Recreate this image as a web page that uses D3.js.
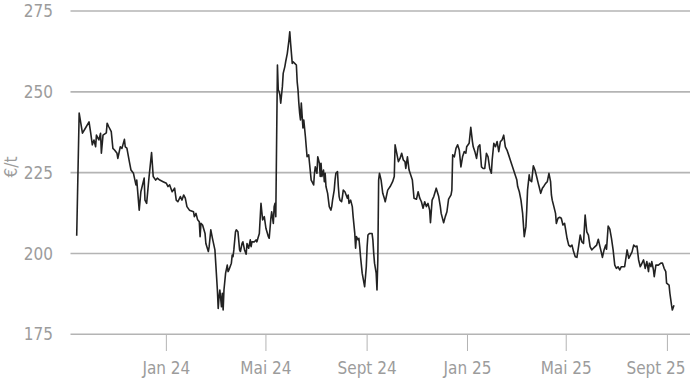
<!DOCTYPE html>
<html>
<head>
<meta charset="utf-8">
<script src="https://cdn.jsdelivr.net/npm/d3@7"></script>
<style>
  html, body { margin: 0; padding: 0; background: #fff; }
  svg text { font-family: "Liberation Sans Narrow", "DejaVu Sans Condensed", Roboto, sans-serif; fill: #9c9c9c; }
</style>
</head>
<body>
<div id="chart"></div>
<script>
// price series, €/t
var dates = [
  "2023-09-14","2023-09-17","2023-09-21","2023-09-24","2023-09-29","2023-10-01","2023-10-03","2023-10-05","2023-10-07","2023-10-08",
  "2023-10-11","2023-10-13","2023-10-14","2023-10-16","2023-10-20","2023-10-21","2023-10-23","2023-10-26","2023-10-28","2023-10-30",
  "2023-11-02","2023-11-03","2023-11-06","2023-11-08","2023-11-11","2023-11-12","2023-11-14","2023-11-17","2023-11-19","2023-11-22",
  "2023-11-25","2023-11-26","2023-11-29","2023-12-01","2023-12-05","2023-12-06","2023-12-08","2023-12-11","2023-12-14","2023-12-16",
  "2023-12-19","2023-12-21","2023-12-24","2023-12-28","2024-01-01","2024-01-03","2024-01-05","2024-01-08","2024-01-11","2024-01-13",
  "2024-01-15","2024-01-18","2024-01-20","2024-01-22","2024-01-24","2024-01-26","2024-01-29",
  "2024-02-03","2024-02-04","2024-02-06","2024-02-08","2024-02-10","2024-02-11","2024-02-12","2024-02-14","2024-02-17","2024-02-18",
  "2024-02-21","2024-02-22","2024-02-24","2024-02-26","2024-02-29","2024-03-01","2024-03-03","2024-03-04","2024-03-05","2024-03-06",
  "2024-03-08","2024-03-09","2024-03-10","2024-03-11","2024-03-13","2024-03-15","2024-03-16","2024-03-17","2024-03-20","2024-03-21",
  "2024-03-22","2024-03-23","2024-03-25","2024-03-26","2024-03-28","2024-03-30","2024-03-31","2024-04-02","2024-04-03","2024-04-05",
  "2024-04-07","2024-04-08","2024-04-10","2024-04-12","2024-04-13","2024-04-14","2024-04-17","2024-04-19","2024-04-20","2024-04-23",
  "2024-04-25","2024-04-26","2024-04-27","2024-04-29","2024-05-01","2024-05-04","2024-05-05","2024-05-07","2024-05-08","2024-05-10",
  "2024-05-11","2024-05-12","2024-05-13",
  "2024-05-15","2024-05-16","2024-05-17","2024-05-18","2024-05-19","2024-05-21","2024-05-22","2024-05-24","2024-05-25","2024-05-27",
  "2024-05-29","2024-05-30","2024-05-31","2024-06-02","2024-06-03","2024-06-05","2024-06-07","2024-06-08","2024-06-09","2024-06-10",
  "2024-06-11","2024-06-12","2024-06-13","2024-06-15","2024-06-16","2024-06-18","2024-06-19","2024-06-20","2024-06-22","2024-06-23",
  "2024-06-24","2024-06-25","2024-06-26","2024-06-28","2024-06-29","2024-06-30","2024-07-02","2024-07-03","2024-07-05","2024-07-06",
  "2024-07-07","2024-07-08","2024-07-10","2024-07-11","2024-07-12","2024-07-13","2024-07-15","2024-07-16","2024-07-17","2024-07-19",
  "2024-07-20","2024-07-21","2024-07-23","2024-07-24","2024-07-25","2024-07-27","2024-07-28","2024-07-29","2024-07-30","2024-08-01",
  "2024-08-02","2024-08-03","2024-08-05","2024-08-08","2024-08-09","2024-08-10","2024-08-12","2024-08-13","2024-08-14","2024-08-15",
  "2024-08-17","2024-08-18","2024-08-19","2024-08-21","2024-08-22","2024-08-23","2024-08-24","2024-08-26","2024-08-29","2024-08-31",
  "2024-09-01","2024-09-02","2024-09-04","2024-09-07","2024-09-08","2024-09-09","2024-09-10","2024-09-12","2024-09-13","2024-09-14",
  "2024-09-15","2024-09-16","2024-09-18","2024-09-19","2024-09-20","2024-09-22","2024-09-23","2024-09-26","2024-09-29",
  "2024-10-02","2024-10-04","2024-10-05","2024-10-07","2024-10-09","2024-10-11","2024-10-13","2024-10-15","2024-10-17","2024-10-18",
  "2024-10-20","2024-10-22","2024-10-24","2024-10-26","2024-10-28","2024-10-31","2024-11-02","2024-11-04","2024-11-06","2024-11-08",
  "2024-11-10","2024-11-12","2024-11-14","2024-11-16","2024-11-17","2024-11-19","2024-11-21","2024-11-24","2024-11-27","2024-11-29",
  "2024-11-30","2024-12-03","2024-12-05","2024-12-07","2024-12-09","2024-12-12","2024-12-13","2024-12-14","2024-12-16","2024-12-18",
  "2024-12-20","2024-12-22","2024-12-24","2024-12-26","2024-12-28","2024-12-30","2024-12-31","2025-01-03","2025-01-05","2025-01-07",
  "2025-01-08","2025-01-10","2025-01-12","2025-01-14","2025-01-16","2025-01-18","2025-01-20","2025-01-22","2025-01-24","2025-01-26",
  "2025-01-28","2025-01-30","2025-01-31","2025-02-02","2025-02-04","2025-02-06","2025-02-08","2025-02-10","2025-02-12","2025-02-14",
  "2025-02-16","2025-02-18","2025-02-20","2025-02-22","2025-02-24","2025-02-26","2025-02-28","2025-03-02","2025-03-03","2025-03-05",
  "2025-03-07","2025-03-09","2025-03-11","2025-03-13","2025-03-14","2025-03-15","2025-03-17",
  "2025-03-18","2025-03-20","2025-03-22","2025-03-24","2025-03-26","2025-03-28","2025-03-29","2025-03-31","2025-04-02","2025-04-04",
  "2025-04-06","2025-04-08","2025-04-10","2025-04-12","2025-04-13","2025-04-14","2025-04-16","2025-04-18","2025-04-19","2025-04-21",
  "2025-04-23","2025-04-25","2025-04-27","2025-04-29","2025-04-30","2025-05-02","2025-05-04","2025-05-06","2025-05-08","2025-05-10",
  "2025-05-12","2025-05-14","2025-05-16","2025-05-18","2025-05-20","2025-05-22","2025-05-24","2025-05-26","2025-05-28","2025-05-30",
  "2025-06-01","2025-06-03","2025-06-05","2025-06-07","2025-06-09","2025-06-11","2025-06-13","2025-06-14","2025-06-16","2025-06-18",
  "2025-06-19","2025-06-21","2025-06-23","2025-06-25","2025-06-27","2025-06-29","2025-07-01","2025-07-03","2025-07-05","2025-07-07",
  "2025-07-09","2025-07-11","2025-07-14","2025-07-16","2025-07-18","2025-07-20","2025-07-22","2025-07-24","2025-07-26","2025-07-28",
  "2025-07-30","2025-07-31","2025-08-03","2025-08-05","2025-08-07","2025-08-09","2025-08-10","2025-08-12","2025-08-13","2025-08-15",
  "2025-08-16","2025-08-18","2025-08-21","2025-08-24","2025-08-26","2025-08-28","2025-08-30","2025-08-31","2025-09-03","2025-09-04",
  "2025-09-06","2025-09-07","2025-09-09"
];

var prices = [
  205.5,243.4,237.2,238.5,240.7,237.3,233.6,235.1,233.0,236.6,
  235.1,237.2,231.0,236.6,237.3,240.3,239.2,237.7,232.5,232.0,
  231.0,229.4,233.0,232.5,235.3,233.0,232.6,228.4,225.8,224.8,
  221.2,222.7,213.4,219.1,223.3,216.5,215.5,223.8,231.2,223.8,
  222.7,223.3,222.7,222.2,221.7,220.7,221.2,219.1,220.2,216.5,
  216.0,217.6,216.5,218.1,217.1,214.5,213.4,
  212.9,211.4,212.4,210.4,209.8,205.2,209.3,208.8,206.2,203.1,
  200.6,202.1,207.3,204.7,201.1,197.0,188.7,183.0,186.6,188.7,
  183.5,187.7,182.5,188.7,193.9,196.4,194.4,194.9,197.0,199.5,
  199.0,201.1,206.7,207.3,206.7,201.1,200.6,203.1,203.6,201.1,
  199.8,203.1,201.6,204.2,202.1,203.6,203.6,204.2,203.6,206.2,
  215.5,212.9,210.4,211.4,207.8,205.2,204.7,210.9,212.9,209.3,
  214.5,215.5,211.4,
  258.3,250.6,250.1,249.0,246.5,251.6,255.7,257.8,259.3,261.9,
  266.0,268.6,265.0,258.8,259.3,258.8,258.3,253.1,250.6,246.5,
  243.4,241.3,246.5,238.8,241.3,236.1,233.0,229.9,230.5,227.9,
  225.3,222.7,222.2,221.2,224.8,226.8,224.8,229.9,227.9,223.8,
  227.9,223.8,225.8,222.2,224.8,220.7,218.6,216.5,214.5,213.4,
  214.5,216.5,219.6,222.7,224.8,225.3,220.7,217.6,216.5,216.0,
  217.6,219.6,219.1,217.1,218.1,215.5,216.5,215.5,214.5,211.4,
  206.2,201.6,205.2,204.2,204.7,202.1,199.0,193.9,189.7,195.9,
  202.1,205.7,206.2,206.2,204.2,200.1,197.0,193.9,188.7,198.0,
  222.7,224.8,222.7,220.7,218.6,217.0,216.0,219.6,220.7,
  222.2,223.8,233.6,231.0,228.4,229.4,231.0,228.9,228.4,226.3,
  229.9,225.8,224.3,222.7,217.1,216.8,219.1,217.1,216.0,214.0,
  216.0,214.5,215.5,213.4,209.5,216.5,217.6,220.2,217.6,214.5,
  212.4,209.5,211.4,212.9,216.8,218.1,219.6,230.5,229.9,232.5,
  233.6,232.0,226.8,229.9,231.5,231.0,233.0,234.1,239.0,234.6,
  233.0,231.5,229.4,233.0,233.6,226.8,226.3,226.3,231.0,229.9,
  226.3,224.8,228.9,234.1,233.0,234.6,231.5,234.6,235.1,236.6,
  233.0,232.0,230.5,228.9,227.4,225.8,224.3,222.7,220.7,219.1,
  216.5,212.4,205.2,208.3,213.4,219.6,224.3,
  222.7,222.2,227.1,225.8,223.8,221.7,220.7,218.6,220.2,220.9,
  221.7,222.2,224.8,222.2,218.1,216.5,214.5,212.4,209.3,210.9,
  211.2,210.9,208.8,209.3,207.8,204.7,202.6,202.1,202.6,200.5,
  199.0,198.8,202.1,205.7,203.6,203.1,211.9,206.7,205.7,202.1,
  201.1,201.6,202.1,202.6,204.4,202.1,200.0,198.8,201.1,202.6,
  201.3,208.5,207.5,204.7,201.1,196.4,195.4,195.9,194.9,195.9,
  195.9,195.9,201.1,198.5,199.5,200.5,202.6,202.1,202.3,198.0,
  195.9,196.4,198.0,195.4,197.5,194.4,197.0,195.9,197.5,194.9,
  192.8,196.4,196.4,197.0,197.0,195.4,194.4,190.8,190.2,187.7,
  184.0,182.5,184.0
];

var yTicks = [175, 200, 225, 250, 275];
var xTickDates = ["2024-01-01","2024-05-01","2024-09-01","2025-01-01","2025-05-01","2025-09-01"];
var xTickLabels = ["Jan 24","Mai 24","Sept 24","Jan 25","Mai 25","Sept 25"];
var yTitle = "€/t";

var width = 690, height = 388;
var parse = d3.utcParse("%Y-%m-%d");

var data = dates.map(function(d, i){ return {date: parse(d), value: prices[i]}; });

var x = d3.scaleUtc()
  .domain([parse("2023-09-01"), parse("2025-10-01")])
  .range([66, 692.1]);

var y = d3.scaleLinear()
  .domain([175, 275])
  .range([334.3, 11]);

var svg = d3.select("#chart")
  .append("svg")
  .attr("width", width)
  .attr("height", height);

// horizontal gridlines
svg.append("g")
  .selectAll("line")
  .data(yTicks)
  .enter()
  .append("line")
    .attr("x1", 70.5)
    .attr("x2", width)
    .attr("y1", function(d){ return y(d); })
    .attr("y2", function(d){ return y(d); })
    .style("stroke", "#b4b4b4")
    .style("stroke-width", 1.6);

// y labels
svg.append("g")
  .selectAll("text")
  .data(yTicks)
  .enter()
  .append("text")
    .attr("x", 53)
    .attr("y", function(d){ return y(d); })
    .attr("dy", "0.36em")
    .attr("text-anchor", "end")
    .attr("font-size", "17px")
    .text(function(d){ return d; });

svg.append("text")
  .attr("transform", "translate(17,167) rotate(-90)")
  .attr("text-anchor", "middle")
  .attr("font-size", "17px")
  .text(yTitle);

// x axis ticks
var xt = svg.append("g");
xt.selectAll("line")
  .data(xTickDates)
  .enter()
  .append("line")
    .attr("x1", function(d){ return x(parse(d)); })
    .attr("x2", function(d){ return x(parse(d)); })
    .attr("y1", 335)
    .attr("y2", 351)
    .style("stroke", "#b4b4b4")
    .style("stroke-width", 1);

xt.selectAll("text")
  .data(xTickDates)
  .enter()
  .append("text")
    .attr("x", function(d){ return Math.min(x(parse(d)), 656); })
    .attr("y", 374)
    .attr("text-anchor", "middle")
    .attr("font-size", "17px")
    .text(function(d, i){ return xTickLabels[i]; });

// price line
var line = d3.line()
  .x(function(d){ return x(d.date); })
  .y(function(d){ return y(d.value); });

svg.append("path")
  .datum(data)
  .attr("d", line)
  .style("fill", "none")
  .style("stroke", "#222222")
  .style("stroke-width", 1.6)
  .style("stroke-linejoin", "round");
</script>
</body>
</html>
